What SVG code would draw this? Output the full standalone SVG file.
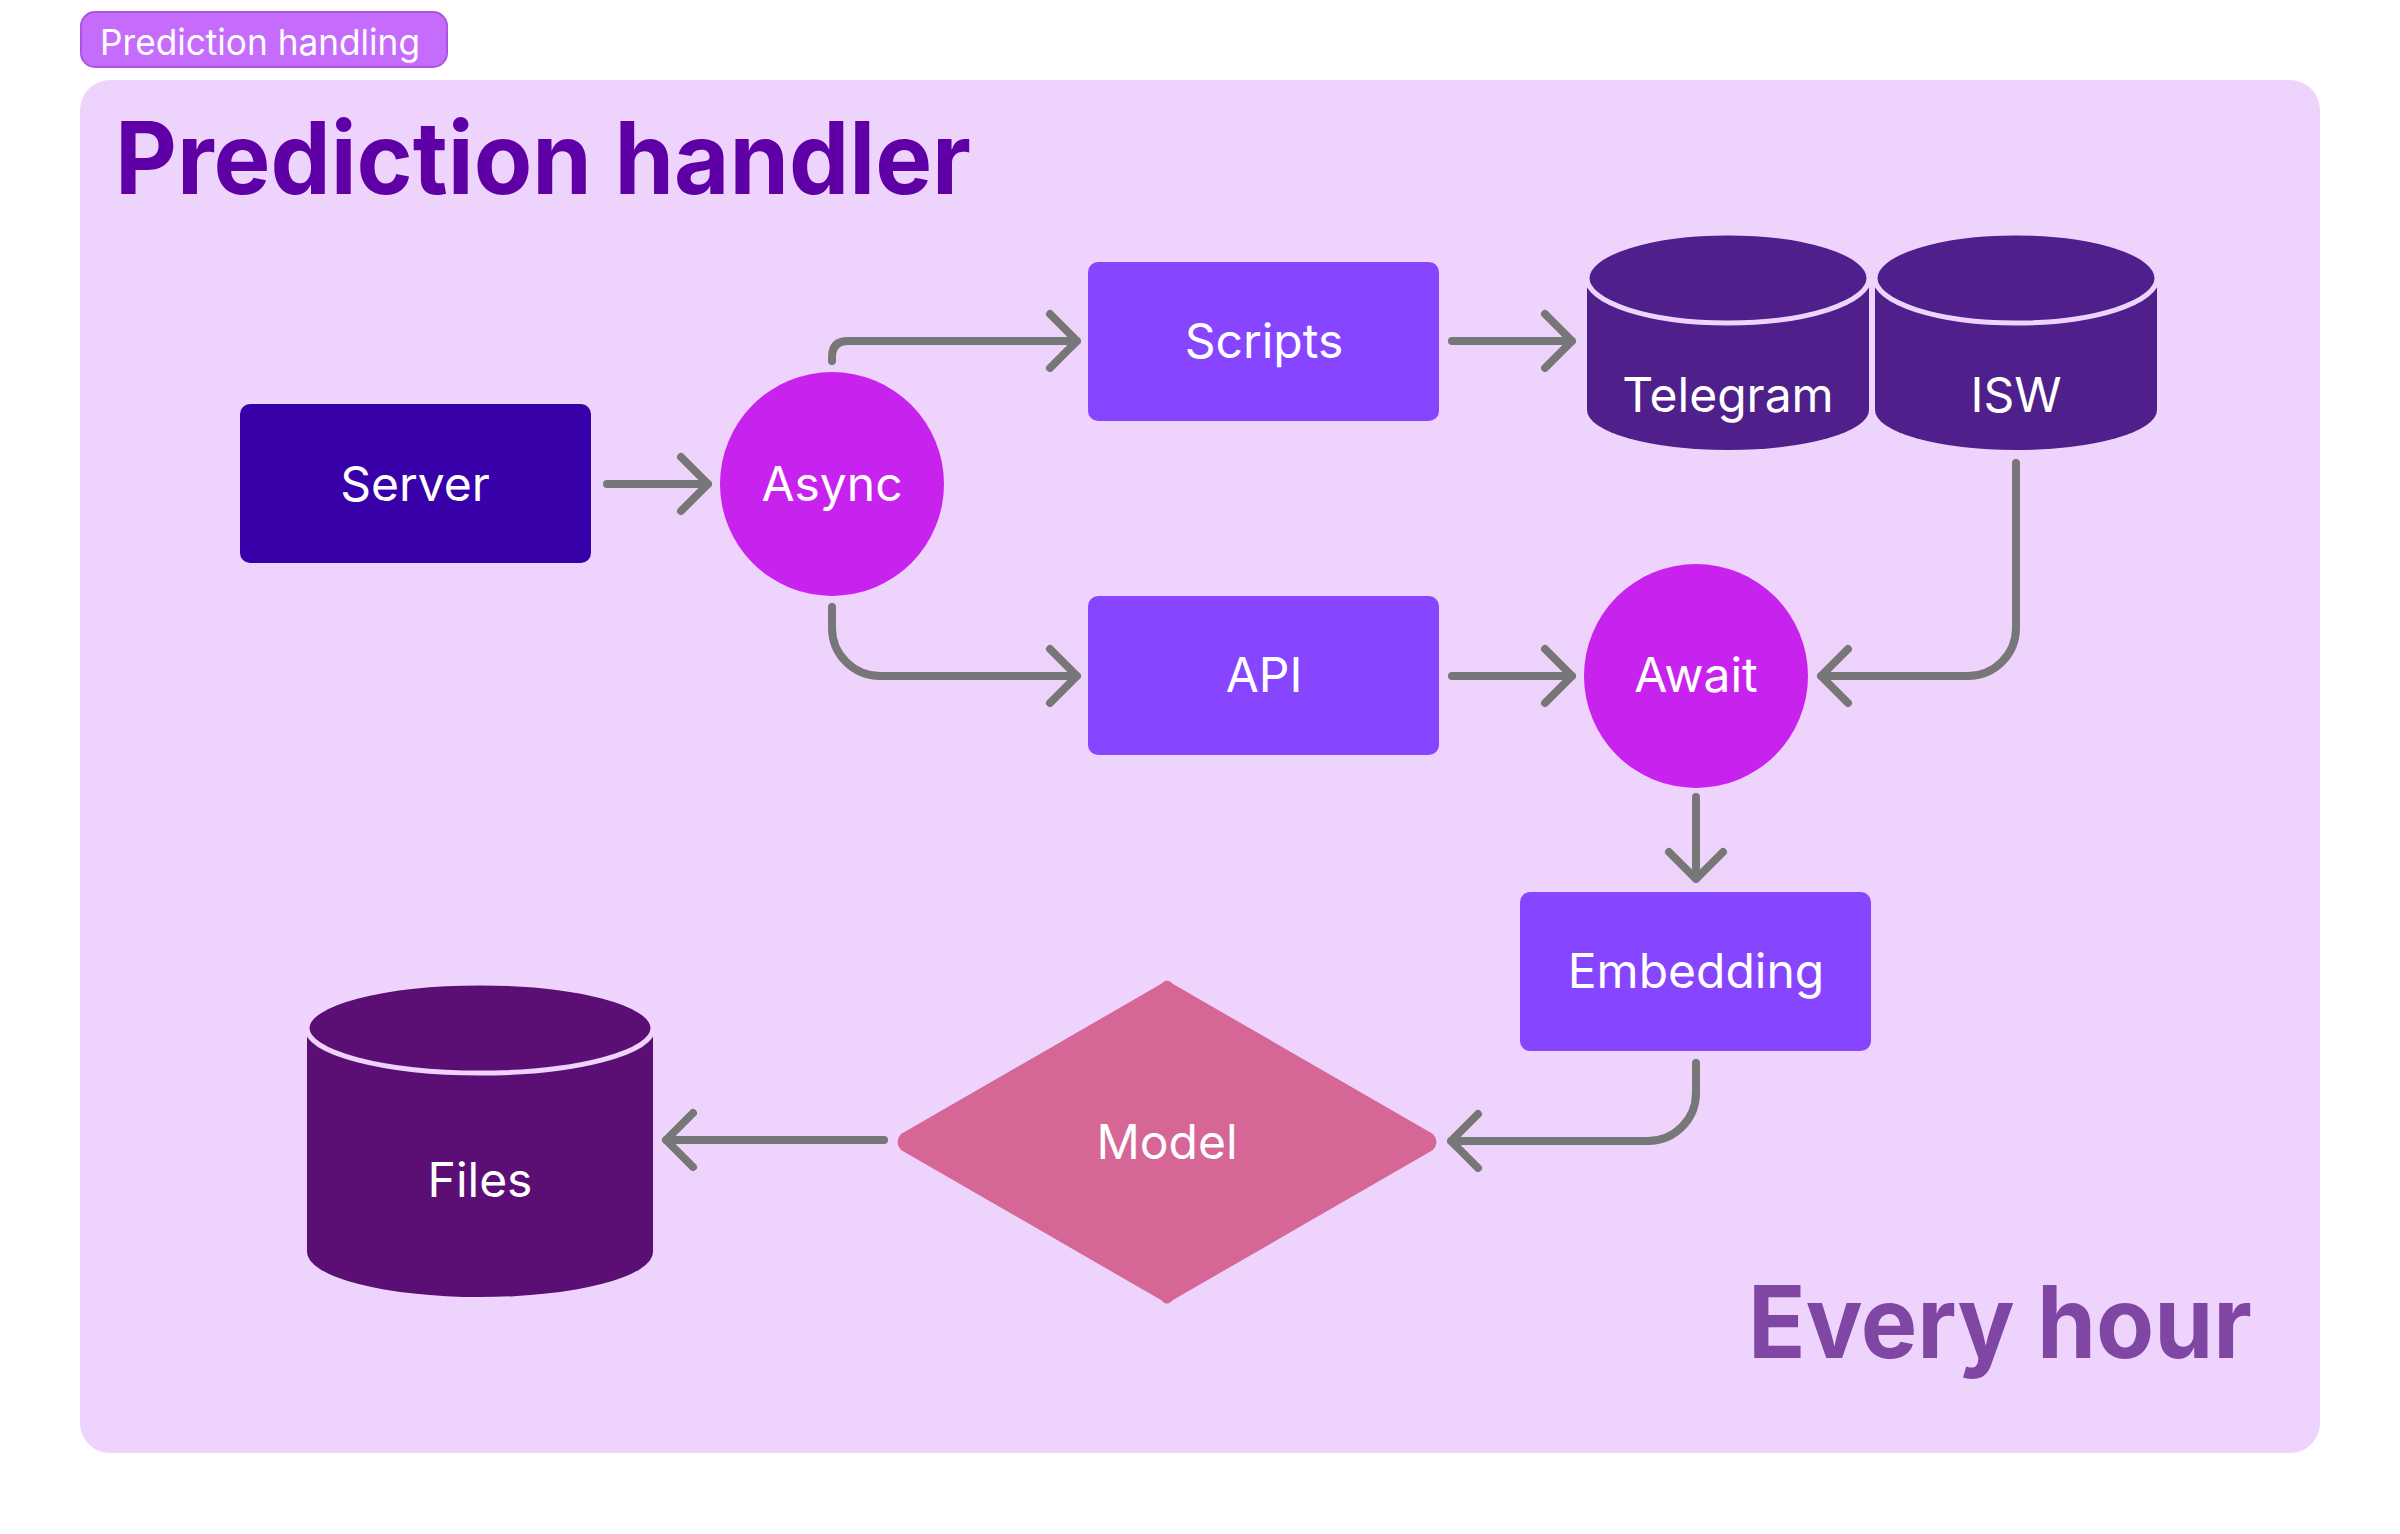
<svg xmlns="http://www.w3.org/2000/svg" width="2400" height="1534" viewBox="0 0 2400 1534">
<style>
.lbl{font-family:Inter,"Liberation Sans",sans-serif;font-size:48px;font-weight:400;fill:#ffffff;text-anchor:middle}
.con{fill:none;stroke:#777777;stroke-width:8;stroke-linecap:round;stroke-linejoin:round}
.rect{fill:#8845ff}
.circ{fill:#c822ef}
.db{fill:#4f1f8b}
.sep{fill:none;stroke:#eed4fd;stroke-width:5}
</style>
<rect width="2400" height="1534" fill="#ffffff"/>
<g id="tag">
<rect x="81" y="12" width="366" height="55" rx="14" fill="#c66cfd" stroke="#a855e0" stroke-width="2"/>
<text x="100" y="55" font-family="Inter,'Liberation Sans',sans-serif" font-size="36" fill="#ffffff" textLength="320" lengthAdjust="spacingAndGlyphs">Prediction handling</text>
</g>
<g id="panel">
<rect x="80" y="80" width="2240" height="1373" rx="30" fill="#eed4fd"/>
<text x="115" y="194" font-family="Inter,'Liberation Sans',sans-serif" font-size="100" font-weight="700" fill="#5f00a6" textLength="856" lengthAdjust="spacingAndGlyphs">Prediction handler</text>
<text x="1748" y="1358" font-family="Inter,'Liberation Sans',sans-serif" font-size="100" font-weight="700" fill="#7f47a3" textLength="504" lengthAdjust="spacingAndGlyphs">Every hour</text>
</g>
<g id="connectors">
<path class="con" d="M607 484 H708 M681 457 L708 484 L681 511"/>
<path class="con" d="M832 361 V357 Q832 341 848 341 H1077 M1050 314 L1077 341 L1050 368"/>
<path class="con" d="M832 607 V628 A48 48 0 0 0 880 676 H1077 M1050 649 L1077 676 L1050 703"/>
<path class="con" d="M1452 341 H1572 M1545 314 L1572 341 L1545 368"/>
<path class="con" d="M1452 676 H1572 M1545 649 L1572 676 L1545 703"/>
<path class="con" d="M2016 463 V628 A48 48 0 0 1 1968 676 H1821 M1848 649 L1821 676 L1848 703"/>
<path class="con" d="M1696 797 V879 M1669 852 L1696 879 L1723 852"/>
<path class="con" d="M1696 1063 V1093 A48 48 0 0 1 1648 1141 H1451 M1478 1114 L1451 1141 L1478 1168"/>
<path class="con" d="M884 1140 H666 M693 1113 L666 1140 L693 1167"/>
</g>
<g id="server">
<rect x="240" y="404" width="351" height="159" rx="10" fill="#3700a8"/>
<text class="lbl" x="415" y="501">Server</text>
</g>
<g id="async">
<circle class="circ" cx="832" cy="484" r="112"/>
<text class="lbl" x="832" y="501">Async</text>
</g>
<g id="scripts">
<rect class="rect" x="1088" y="262" width="351" height="159" rx="10"/>
<text class="lbl" x="1264" y="358">Scripts</text>
</g>
<g id="api">
<rect class="rect" x="1088" y="596" width="351" height="159" rx="10"/>
<text class="lbl" x="1264" y="692">API</text>
</g>
<g id="telegram">
<path class="db" d="M1587 278 A141 45 0 0 1 1869 278 V410 A141 40 0 0 1 1587 410 Z"/>
<ellipse class="db sep" cx="1728" cy="278" rx="141" ry="45"/>
<text class="lbl" x="1728" y="412">Telegram</text>
</g>
<g id="isw">
<path class="db" d="M1875 278 A141 45 0 0 1 2157 278 V410 A141 40 0 0 1 1875 410 Z"/>
<ellipse class="db sep" cx="2016" cy="278" rx="141" ry="45"/>
<text class="lbl" x="2016" y="412">ISW</text>
</g>
<g id="await">
<circle class="circ" cx="1696" cy="676" r="112"/>
<text class="lbl" x="1696" y="692">Await</text>
</g>
<g id="embedding">
<rect class="rect" x="1520" y="892" width="351" height="159" rx="10"/>
<text class="lbl" x="1696" y="988">Embedding</text>
</g>
<g id="model">
<path d="M1161 984 Q1167 977 1173 984 L1433 1134 Q1440 1142 1433 1150 L1173 1300 Q1167 1307 1161 1300 L901 1150 Q894 1142 901 1134 Z" fill="#d56696"/>
<text class="lbl" x="1167" y="1159">Model</text>
</g>
<g id="files">
<path d="M307 1028 A173 45 0 0 1 653 1028 V1252 A173 45 0 0 1 307 1252 Z" fill="#5b0f75"/>
<ellipse class="sep" cx="480" cy="1028" rx="173" ry="45" fill="#5b0f75"/>
<text class="lbl" x="480" y="1197">Files</text>
</g>
</svg>
